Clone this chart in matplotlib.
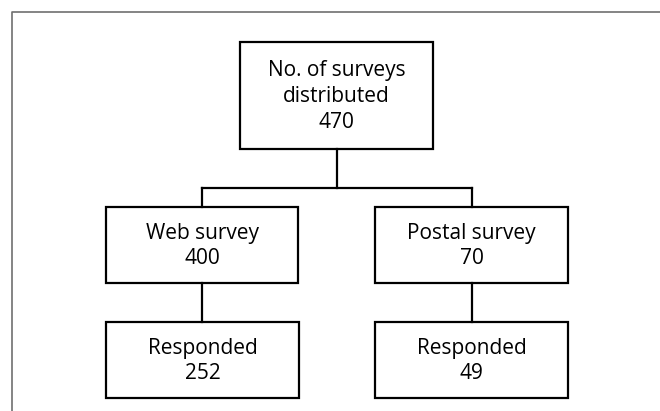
import matplotlib.pyplot as plt
from matplotlib.patches import Rectangle

plt.rcParams['font.family'] = ['Open Sans', 'DejaVu Sans']

labels = ['No. of surveys\ndistributed', 'Web survey', 'Postal survey', 'Responded', 'Responded']
counts = [470, 400, 70, 252, 49]

# box layout in pixels: left, top, right, bottom
boxes = [
    (240, 42, 433, 149),
    (106, 207, 298, 283),
    (375, 207, 568, 283),
    (106, 322, 299, 398),
    (375, 322, 568, 398),
]

fig = plt.figure(figsize=(6.6, 4.11), dpi=100)
ax = fig.add_axes([0, 0, 1, 1])
ax.set_xlim(0, 660)
ax.set_ylim(411, 0)
ax.axis('off')

# outer frame (top and left only)
ax.plot([12, 12, 660], [411, 12, 12], color='#707070', lw=1.2)

for (x0, y0, x1, y1), lab, n in zip(boxes, labels, counts):
    ax.add_patch(Rectangle((x0, y0), x1 - x0, y1 - y0, fill=False,
                           edgecolor='black', lw=1.6))
    ax.text((x0 + x1) / 2, (y0 + y1) / 2 + 1, f'{lab}\n{n}', ha='center',
            va='center', fontsize=15, linespacing=1.3)

def cx(b):
    return (b[0] + b[2]) / 2

# connectors
top = boxes[0]
mid_y = 188
ax.plot([cx(top), cx(top)], [top[3], mid_y], color='black', lw=1.6)
ax.plot([cx(boxes[1]), cx(boxes[2])], [mid_y, mid_y], color='black', lw=1.6)
for i, j in [(1, 3), (2, 4)]:
    ax.plot([cx(boxes[i]), cx(boxes[i])], [mid_y, boxes[i][1]],
            color='black', lw=1.6)
    ax.plot([cx(boxes[i]), cx(boxes[i])], [boxes[i][3], boxes[j][1]],
            color='black', lw=1.6)

fig.savefig('out.png', dpi=100)
